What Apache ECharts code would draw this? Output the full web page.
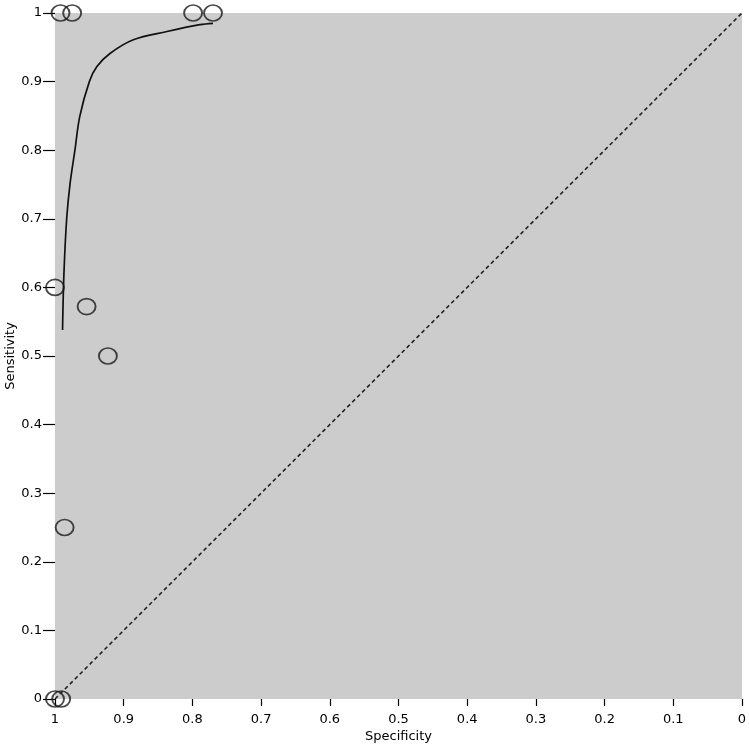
<!DOCTYPE html>
<html>
<head>
<meta charset="utf-8">
<script src="https://cdn.jsdelivr.net/npm/echarts@6/dist/echarts.min.js"></script>
<style>html,body{margin:0;padding:0;background:#fff}#c{width:749px;height:748px}</style>
</head>
<body>
<div id="c"></div>
<script>
// Study points (specificity, sensitivity)
const studySpec = [0.992, 0.975, 0.799, 0.770, 1.0, 0.954, 0.923, 0.986, 1.0, 0.991];
const studySens = [1, 1, 1, 1, 0.6, 0.572, 0.5, 0.25, 0, 0];
// SROC curve
const curveSpec = [0.989, 0.987, 0.983, 0.978, 0.971, 0.964, 0.950, 0.939, 0.920, 0.886, 0.837, 0.789, 0.770];
const curveSens = [0.538, 0.620, 0.700, 0.752, 0.800, 0.849, 0.900, 0.922, 0.941, 0.961, 0.973, 0.983, 0.985];
// Chance diagonal
const diagSpec = [1, 0];
const diagSens = [0, 1];
const xTitle = 'Specificity';
const yTitle = 'Sensitivity';

const zip = (a, b) => a.map((v, i) => [v, b[i]]);
const fmt = v => String(+v.toFixed(1));
const font = 'DejaVu Sans, sans-serif';

const chart = echarts.init(document.getElementById('c'), null, {renderer: 'canvas'});
chart.setOption({
  animation: false,
  grid: {left: 55, right: 7, top: 13, bottom: 49, containLabel: false, outerBoundsMode: 'none',
         show: true, backgroundColor: '#cccccc', borderWidth: 0},
  xAxis: {
    type: 'value', min: 0, max: 1, interval: 0.1, inverse: true, position: 'bottom',
    name: xTitle, nameLocation: 'middle', nameGap: 31, nameMoveOverlap: false,
    nameTextStyle: {fontFamily: font, fontSize: 13, color: '#000'},
    axisLine: {show: false, onZero: false},
    axisTick: {show: true, inside: false, length: 7, lineStyle: {color: '#000', width: 1.2}},
    axisLabel: {fontFamily: font, fontSize: 13, color: '#000', margin: 14, formatter: fmt},
    splitLine: {show: false}
  },
  yAxis: {
    type: 'value', min: 0, max: 1, interval: 0.1, position: 'left',
    name: yTitle, nameLocation: 'middle', nameGap: 38, nameMoveOverlap: false,
    nameTextStyle: {fontFamily: font, fontSize: 13, color: '#000'},
    axisLine: {show: false, onZero: false},
    axisTick: {show: true, inside: false, length: 12, lineStyle: {color: '#000', width: 1.2}},
    axisLabel: {fontFamily: font, fontSize: 13, color: '#000', margin: 13, formatter: fmt},
    splitLine: {show: false}
  },
  series: [
    {
      type: 'line', data: zip(diagSpec, diagSens), symbol: 'none', silent: true,
      lineStyle: {color: '#222', width: 1.6, type: [4, 3]}
    },
    {
      type: 'line', data: zip(curveSpec, curveSens), symbol: 'none', smooth: 0.35, silent: true,
      lineStyle: {color: '#111', width: 1.7}
    },
    {
      type: 'scatter', data: zip(studySpec, studySens), clip: false,
      symbol: 'circle', symbolSize: [18, 16],
      itemStyle: {color: 'rgba(0,0,0,0)', borderColor: '#1a1a1a', borderWidth: 1.8}
    }
  ]
});
</script>
</body>
</html>
